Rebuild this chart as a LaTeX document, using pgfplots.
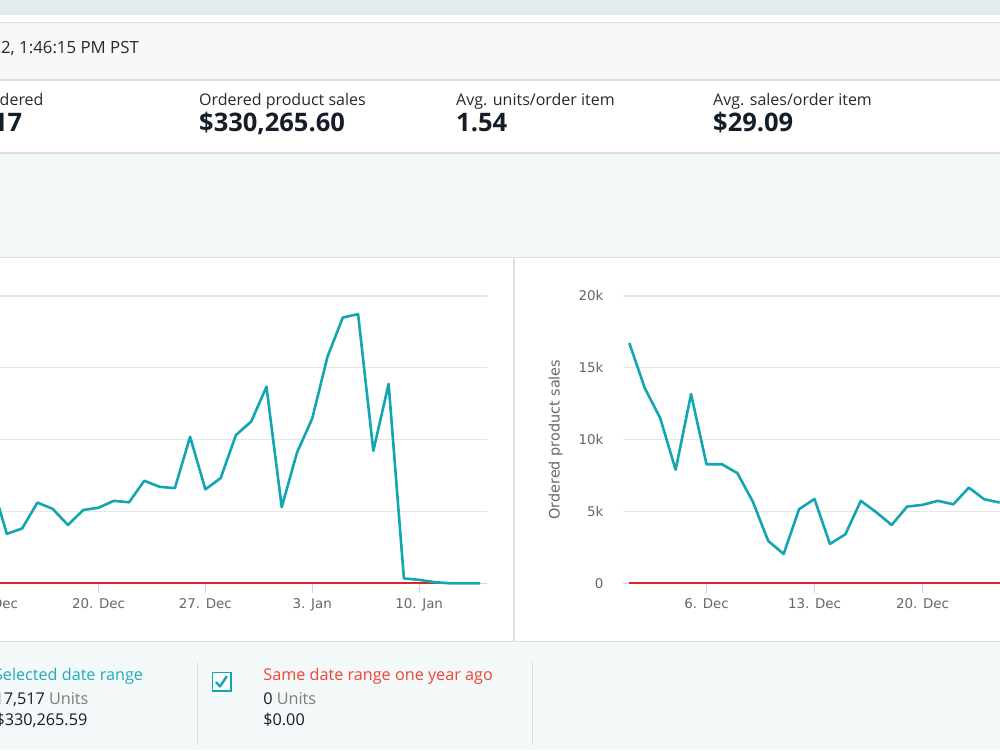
\documentclass[border=0pt]{standalone}
\usepackage{fontspec}
\setmainfont{Open Sans}
\newfontfamily\chartfont{DejaVu Sans}
\usepackage{pgfplots}
\usepackage{pgfplotstable}
\pgfplotsset{compat=1.18}
\definecolor{amzteal}{RGB}{18,165,178}
\definecolor{legteal}{RGB}{33,172,186}
\definecolor{amzred}{RGB}{228,32,40}
\definecolor{legred}{RGB}{240,68,56}
\definecolor{gridcol}{RGB}{230,230,230}
\definecolor{axiscol}{RGB}{204,214,235}
\definecolor{ticktext}{RGB}{102,102,102}
\definecolor{hdrtext}{RGB}{35,42,50}
\definecolor{numdark}{RGB}{20,30,40}
\definecolor{unitgray}{RGB}{125,125,125}
\definecolor{topband}{RGB}{226,235,237}
\definecolor{panelgray}{RGB}{248,248,248}
\definecolor{linegray}{RGB}{222,222,222}
\definecolor{lightteal}{RGB}{243,248,248}

% Units ordered per day (day 1 = 1 Dec, day 32 = 1 Jan)
\pgfplotstableread{
day units
13 351
14 172
15 191
16 281
17 259
18 203
19 255
20 263
21 287
22 282
23 357
24 336
25 331
26 510
27 327
28 366
29 516
30 563
31 684
32 265
33 455
34 574
35 789
36 925
37 937
38 461
39 694
40 17
41 12
42 4
43 0
44 0
45 0
}\unitsdata

% Ordered product sales per day
\pgfplotstableread{
day sales
1 16720
2 13590
3 11500
4 7900
5 13170
6 8290
7 8290
8 7670
9 5690
10 2950
11 2040
12 5160
13 5870
14 2740
15 3410
16 5740
17 4950
18 4060
19 5340
20 5460
21 5740
22 5500
23 6660
24 5850
25 5620
}\salesdata

% Same date range one year ago (all zero)
\pgfplotstableread{
day value
1 0
5 0
10 0
15 0
20 0
25 0
30 0
35 0
40 0
45 0
}\lastyear

\pgfplotsset{amzchart/.style={
  scale only axis,
  clip=false,
  axis x line*=bottom, axis y line*=left,
  x axis line style={draw=axiscol, line width=1pt, -},
  y axis line style={draw=none},
  ymajorgrids, grid style={draw=gridcol, line width=1.1pt},
  xtick={6,13,20,27,34,41},
  xticklabels={6. Dec,13. Dec,20. Dec,27. Dec,3. Jan,10. Jan},
  tick align=outside,
  major tick length=10pt,
  xtick style={draw=axiscol, line width=1pt},
  ytick style={draw=none},
  scaled y ticks=false,
  ticklabel style={font=\chartfont\fontsize{13.4}{16}\selectfont, text=ticktext},
  xticklabel style={anchor=north, inner sep=0pt, yshift=-5pt},
  yticklabel style={anchor=east, inner sep=0pt, xshift=-9pt},
}}

\begin{document}
\begin{tikzpicture}[x=1pt,y=1pt]
\useasboundingbox (0,0) rectangle (1000,750);
\clip (0,0) rectangle (1000,750);
% backgrounds
\fill[white] (0,0) rectangle (1000,750);
\fill[topband] (0,735) rectangle (1000,750);
\fill[panelgray] (0,670) rectangle (1000,727.7);
\draw[linegray, line width=1.2pt] (0,727.7) -- (1000,727.7);
\draw[linegray, line width=1.2pt] (0,670) -- (1000,670);
\fill[lightteal] (0,492.5) rectangle (1000,596.5);
\draw[linegray, line width=1.5pt] (0,597) -- (1000,597);
\draw[linegray, line width=1.2pt] (0,492.5) -- (1000,492.5);
\fill[lightteal] (0,0) rectangle (1000,108);
\draw[linegray, line width=1.2pt] (0,108.3) -- (1000,108.3);
\draw[linegray, line width=1.5pt] (514,108.3) -- (514,492.5);
\draw[linegray, line width=1.2pt] (197.5,5) -- (197.5,88);
\draw[linegray, line width=1.2pt] (532.3,5) -- (532.3,88);

% header texts
\node[anchor=base east, inner sep=0pt, font=\fontsize{16.8}{19}\selectfont, text=hdrtext] at (139,696.5) {Last updated 1/13/2022, 1:46:15 PM PST};
\begin{scope}[every node/.style={inner sep=0pt, font=\fontsize{16}{19}\selectfont, text=hdrtext}]
\node[anchor=base east] at (43.7,644) {Units ordered};
\node[anchor=base west] at (199,644) {Ordered product sales};
\node[anchor=base west] at (456,644) {Avg. units/order item};
\node[anchor=base west] at (713,644) {Avg. sales/order item};
\end{scope}
\begin{scope}[every node/.style={inner sep=0pt, font=\bfseries\fontsize{25.5}{28}\selectfont, text=numdark}]
\node[anchor=base east] at (22.3,618.5) {17,517};
\node[anchor=base west] at (199,618.5) {\$330,265.60};
\node[anchor=base west] at (456,618.5) {1.54};
\node[anchor=base west] at (713,618.5) {\$29.09};
\end{scope}

% legend
\begin{scope}[every node/.style={inner sep=0pt, font=\fontsize{16.2}{19}\selectfont, text=numdark}]
\node[anchor=base east, text=legteal] at (143.2,69.5) {Selected date range};
\node[anchor=base east] at (88.6,46) {17,517 \textcolor{unitgray}{Units}};
\node[anchor=base east] at (87.5,24.5) {\$330,265.59};
\node[anchor=base west, text=legred] at (263.2,69.5) {Same date range one year ago};
\node[anchor=base west] at (263.2,46) {0 \textcolor{unitgray}{Units}};
\node[anchor=base west] at (263.2,24.5) {\$0.00};
\end{scope}
\fill[white] (212.5,59.2) rectangle (230.8,77.5);
\draw[amzteal, line width=1.8pt] (212.5,59.2) rectangle (230.8,77.5);
\draw[amzteal, line width=2.4pt, line cap=round, line join=round] (216.3,67.6) -- (220,63.6) -- (226.6,73.4);

% left chart: units ordered
\begin{axis}[amzchart,
  at={(-198.2pt,166.7pt)}, anchor=south west,
  width=685.3pt, height=287.3pt,
  xmin=0.57, xmax=45.45, ymin=0, ymax=1000,
  ytick={0,250,500,750,1000}, yticklabels={},
]
\addplot[amzred, line width=1.8pt] table[x=day, y=value] {\lastyear};
\addplot[amzteal, line width=2.6pt, line join=round] table[x=day, y=units] {\unitsdata};
\end{axis}

% right chart: ordered product sales
\begin{axis}[amzchart,
  at={(622.7pt,166.7pt)}, anchor=south west,
  width=692.5pt, height=287.3pt,
  xmin=0.57, xmax=45.45, ymin=0, ymax=20000,
  ytick={0,5000,10000,15000,20000}, yticklabels={0,5k,10k,15k,20k},
  ylabel={Ordered product sales},
  every axis y label/.style={at={(axis description cs:-0.0967,0.5)}, rotate=90, anchor=center,
    font=\chartfont\fontsize{14.4}{17}\selectfont, text=ticktext},
]
\addplot[amzred, line width=1.8pt] table[x=day, y=value] {\lastyear};
\addplot[amzteal, line width=2.6pt, line join=round] table[x=day, y=sales] {\salesdata};
\end{axis}
\end{tikzpicture}
\end{document}
